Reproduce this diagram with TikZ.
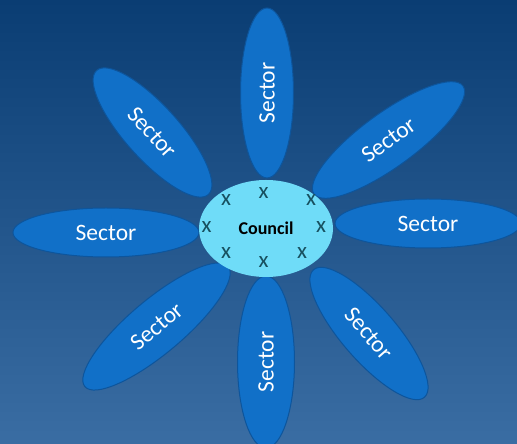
\documentclass[tikz,border=0pt]{standalone}
\usepackage{fontspec}
\setmainfont{Carlito}
\usetikzlibrary{shapes.geometric}
\definecolor{bgtop}{HTML}{0A3D73}
\definecolor{bgbot}{HTML}{3A6DA3}
\definecolor{petal}{HTML}{1170C8}
\definecolor{petalrim}{HTML}{0D559C}
\definecolor{hub}{HTML}{6FDCF8}
\definecolor{mark}{HTML}{17505F}
\tikzset{
  sector/.style={ellipse,draw=petalrim,line width=1pt,fill=petal,inner sep=0pt,
    text=white,font=\fontsize{23.5}{28}\selectfont},
  council/.style={ellipse,fill=hub,inner sep=0pt,minimum width=134,minimum height=97,
    font=\bfseries\fontsize{18}{22}\selectfont},
  xmark/.style={text=mark,inner sep=0pt,font=\fontsize{23}{26}\selectfont}
}
\begin{document}
\begin{tikzpicture}[x=1pt,y=1pt]
\shade[top color=bgtop,bottom color=bgbot] (0,0) rectangle (517,444);
\useasboundingbox (0,0) rectangle (517,444);
% petals
\node[sector,minimum width=170,minimum height=53,rotate=90] (top) at (267,351) {Sector};
\node[sector,minimum width=184,minimum height=54,rotate=36] (upright) at (388.5,304) {Sector};
\node[sector,minimum width=186,minimum height=49] (right) at (428,220.5) {Sector};
\node[sector,minimum width=169,minimum height=54,rotate=-49] (lowright) at (369,110.5) {Sector};
\node[sector,minimum width=172,minimum height=57,rotate=90] (bottom) at (266,82) {Sector};
\node[sector,minimum width=187,minimum height=54,rotate=40] (lowleft) at (156.5,117.5) {Sector};
\node[sector,minimum width=186,minimum height=49] (left) at (106,211.5) {Sector};
\node[sector,minimum width=167,minimum height=54,rotate=-48] (upleft) at (152.5,311.5) {Sector};
% hub
\node[council] (hub) at (266,215.5) {Council};
\foreach \n/\px/\py in {t/263.5/251,ur/311/244,r/321/217,lr/302/191,b/263.5/182,ll/226/191,l/206.5/217,ul/226/244}
  \node[xmark] (x\n) at (\px,\py) {x};
\end{tikzpicture}
\end{document}
